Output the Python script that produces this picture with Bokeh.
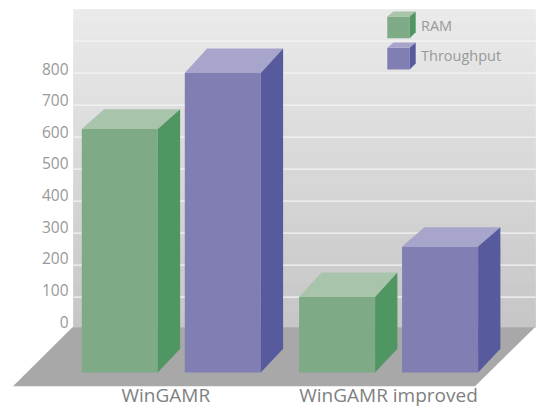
from bokeh.plotting import figure
from bokeh.embed import file_html
from bokeh.resources import INLINE
from bokeh.models import Range1d, LinearAxis, FixedTicker
from bokeh.core.properties import value

categories = ["WinGAMR", "WinGAMR improved"]
series_names = ["RAM", "Throughput"]
ram = [625, 100]
throughput = [800, 258]
y_ticks = [0, 100, 200, 300, 400, 500, 600, 700, 800]
grid_values = [100, 200, 300, 400, 500, 600, 700, 800, 900]

W, H = 536, 407
PX = 0.32            # pixels per value unit
Y0 = 328.6           # page pixel of value 0 on the wall


def yv(py):
    return (Y0 - py) / PX


p = figure(width=W, height=H, output_backend="svg", toolbar_location=None,
           x_range=Range1d(0, W), y_range=Range1d(yv(H), yv(0)),
           x_axis_type=None, y_axis_type=None,
           min_border=0, min_border_left=0, min_border_right=0, min_border_top=0, min_border_bottom=0,
           outline_line_color=None, background_fill_color="white", border_fill_color="white")
p.grid.visible = False

# wall gradient
WALL_L, WALL_R, WALL_T, WALL_B = 73, 535, 9, 327
n = WALL_B - WALL_T
tops = [yv(WALL_T + i) for i in range(n)]
bots = [yv(WALL_T + i + 1) for i in range(n)]
cols = []
for i in range(n):
    g = round(233 + (194 - 233) * i / (n - 1))
    cols.append(f"#{g:02x}{g:02x}{g:02x}")
p.quad(left=WALL_L, right=WALL_R, top=tops, bottom=bots, fill_color=cols, line_color=cols,
       line_width=0.5, level="image")

# grid lines
p.segment(x0=WALL_L, x1=WALL_R, y0=grid_values, y1=grid_values,
          line_color="#f5f5f5", line_width=1.4, level="underlay")

# floor
FLOOR_BACK, FLOOR_FRONT = yv(326.7), yv(385.7)
p.patch([72, 534.5, 474.5, 12.5], [FLOOR_BACK, FLOOR_BACK, FLOOR_FRONT, FLOOR_FRONT],
        fill_color="#a8a8a8", line_color=None)

# bars
BASE = yv(372)
BAR_W, DX, BASE_DEPTH = 76, 22.3, 74
GROUP_LEFT = [81.3, 298.6]
PITCH = 103
top_depth = {"RAM": [62, 77], "Throughput": [77, 60]}
palette = {
    "RAM": ("#7eaa85", "#a8c5ab", "#4f9663"),
    "Throughput": ("#807eb3", "#a7a5cb", "#585a9e"),
}
for s, (name, vals) in enumerate(zip(series_names, [ram, throughput])):
    front_c, top_c, side_c = palette[name]
    for g, v in enumerate(vals):
        x = GROUP_LEFT[g] + s * PITCH
        d = top_depth[name][g]
        p.patch([x, x + BAR_W, x + BAR_W, x], [BASE, BASE, v, v], fill_color=front_c, line_color=None)
        p.patch([x, x + BAR_W, x + BAR_W + DX, x + DX + 0], [v, v, v + d, v + d], fill_color=top_c, line_color=None)
        p.patch([x + BAR_W, x + BAR_W + DX, x + BAR_W + DX, x + BAR_W],
                [BASE, BASE + BASE_DEPTH, v + d, v], fill_color=side_c, line_color=None)

# legend
LX, LW, LDX = 386.8, 22.4, 6
for name, (py_back, py_front, py_bot, py_text) in zip(series_names, [(11, 16, 37.7, 24.5), (42, 47.3, 69, 55)]):
    front_c, top_c, side_c = palette[name]
    p.patch([LX, LX + LW, LX + LW, LX], [yv(py_bot), yv(py_bot), yv(py_front), yv(py_front)],
            fill_color=front_c, line_color=None)
    p.patch([LX, LX + LW, LX + LW + LDX, LX + LDX], [yv(py_front), yv(py_front), yv(py_back), yv(py_back)],
            fill_color=top_c, line_color=None)
    p.patch([LX + LW, LX + LW + LDX, LX + LW + LDX, LX + LW],
            [yv(py_bot), yv(py_bot - 6), yv(py_back), yv(py_front)], fill_color=side_c, line_color=None)
    p.text(x=[420.5], y=[yv(py_text)], text=[name], text_font=value("Open Sans"), text_font_size="14.5px",
           text_color="#999999", text_baseline="middle", text_align="left")

# value axis: its labels sit slightly above the grid lines
LABEL_0, LABEL_PX = 321, 0.31625
p.extra_y_ranges["labels"] = Range1d((LABEL_0 - H) / LABEL_PX, LABEL_0 / LABEL_PX)
ya = LinearAxis(y_range_name="labels", ticker=FixedTicker(ticks=y_ticks), fixed_location=72,
                axis_line_color=None, major_tick_line_color=None, minor_tick_line_color=None,
                major_tick_out=0, major_tick_in=0,
                major_label_text_font="Open Sans", major_label_text_font_size="15.5px",
                major_label_text_color="#999999", major_label_standoff=4)
p.add_layout(ya, "left")

# category axis
CAT_X = [165.3, 388]
xa = LinearAxis(ticker=FixedTicker(ticks=CAT_X), fixed_location=yv(381.5),
                major_label_overrides={CAT_X[0]: categories[0], CAT_X[1]: categories[1]},
                axis_line_color=None, major_tick_line_color=None, minor_tick_line_color=None,
                major_tick_out=0, major_tick_in=0,
                major_label_text_font="Open Sans", major_label_text_font_size="19px",
                major_label_text_color="#808080", major_label_standoff=0)
p.add_layout(xa, "below")

open("out.html", "w").write(file_html(p, INLINE))
